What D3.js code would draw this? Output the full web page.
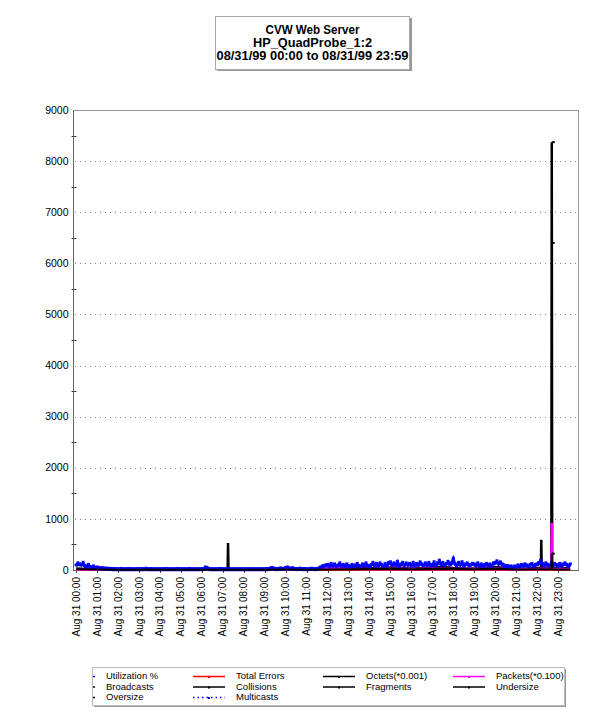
<!DOCTYPE html>
<html>
<head>
<meta charset="utf-8">
<script src="https://cdn.jsdelivr.net/npm/d3@7"></script>
<style>
  body { margin: 0; background: #fff; }
  text { font-family: "Liberation Sans", Arial, sans-serif; fill: #000; }
</style>
</head>
<body>
<script>
// chart text
const titleLines = ["CVW Web Server", "HP_QuadProbe_1:2", "08/31/99 00:00 to 08/31/99 23:59"];
const hourLabels = d3.range(0, 24).map(h => "Aug 31 " + String(h).padStart(2, "0") + ":00");
const yTicks = [0, 1000, 2000, 3000, 4000, 5000, 6000, 7000, 8000, 9000];

// Utilization %, one value every 5 minutes (12 per hour), last sample 23:35
const utilization = [
  80, 120, 100, 90, 130, 70, 60, 90, 50, 40, 60, 30,
  40, 30, 20, 25, 15, 20, 10, 15, 10, 5, 10, 5,
  5, 5, 10, 5, 5, 5, 10, 5, 5, 5, 5, 5,
  5, 10, 5, 5, 15, 5, 5, 10, 5, 5, 5, 5,
  5, 5, 5, 5, 10, 5, 5, 5, 5, 5, 10, 5,
  5, 5, 5, 5, 5, 10, 5, 5, 5, 5, 5, 5,
  5, 10, 40, 30, 10, 5, 5, 5, 5, 5, 10, 5,
  5, 5, 5, 5, 5, 5, 5, 5, 5, 5, 5, 5,
  5, 5, 5, 5, 5, 5, 5, 5, 5, 5, 5, 5,
  5, 10, 5, 15, 30, 20, 10, 5, 10, 20, 15, 10,
  30, 40, 20, 15, 25, 10, 10, 5, 15, 10, 5, 10,
  5, 5, 10, 15, 10, 5, 10, 20, 40, 60, 70, 80,
  90, 60, 110, 70, 100, 60, 80, 120, 70, 90, 60, 100,
  70, 50, 90, 60, 80, 110, 70, 60, 100, 80, 120, 70,
  60, 90, 130, 80, 110, 70, 120, 90, 60, 110, 80, 130,
  140, 80, 120, 90, 150, 70, 100, 130, 80, 120, 90, 110,
  80, 130, 70, 110, 90, 140, 100, 80, 120, 90, 130, 80,
  90, 140, 80, 120, 170, 100, 130, 90, 110, 150, 100, 120,
  210, 110, 80, 130, 90, 140, 70, 100, 120, 80, 90, 110,
  100, 80, 120, 70, 100, 60, 90, 110, 80, 100, 70, 120,
  130, 160, 110, 140, 100, 80, 60, 70, 50, 60, 40, 60,
  50, 80, 60, 90, 70, 100, 80, 60, 90, 110, 70, 90,
  100, 130, 170, 110, 80, 120, 90, 70, 100, 80, 110, 90,
  70, 110, 80, 100, 120, 90, 70, 100
];

// Octets(*0.001): [hour, value]
const octets = [
  [0, 30], [0.5, 20], [1, 10], [1.5, 5], [2, 5], [2.5, 5], [3, 10], [3.5, 15],
  [4, 5], [4.5, 5], [5, 5], [5.5, 5], [6, 5], [6.5, 5], [7, 5],
  [7.23, 5], [7.25, 530], [7.27, 5], [7.5, 5],
  [8, 5], [8.5, 5], [9, 5], [9.5, 10], [10, 15], [10.5, 10], [11, 5], [11.5, 20],
  [12, 30], [12.5, 40], [13, 30], [13.5, 50], [14, 40], [14.5, 30], [15, 50], [15.5, 40],
  [16, 30], [16.5, 40], [17, 50], [17.5, 60], [18, 40], [18.5, 30], [19, 30], [19.5, 40],
  [20, 60], [20.5, 40], [21, 20], [21.5, 30], [22, 40],
  [22.18, 40], [22.2, 590], [22.22, 40], [22.5, 50],
  [22.68, 40], [22.695, 6400], [22.7, 8370], [22.72, 40], [23, 30], [23.58, 40]
];

// Packets(*0.100): [hour, value]
const packets = [
  [0, 15], [1, 5], [2, 3], [3, 3], [4, 3], [5, 3], [6, 3], [7, 5], [8, 3], [9, 3],
  [10, 5], [11, 8], [12, 30], [12.5, 35], [13, 25], [14, 20], [15, 25], [16, 20],
  [17, 25], [18, 20], [19, 20], [20, 25], [21, 15], [22, 20], [22.5, 25],
  [22.68, 20], [22.7, 920], [22.72, 20], [23, 20], [23.58, 20]
];

// Broadcasts: [hour, value]
const broadcasts = [
  [0, 20], [0.5, 15], [1, 8], [2, 3], [3, 5], [3.5, 10], [4, 3], [5, 3], [6, 3],
  [7, 3], [8, 3], [9, 5], [10, 8], [11, 5], [12, 10], [13, 15], [14, 20], [15, 25],
  [16, 15], [17, 20], [18, 25], [19, 15], [20, 25], [21, 10], [22, 15],
  [22.68, 15], [22.7, 320], [22.72, 15], [23, 10], [23.58, 10]
];

// Total Errors: [hour, value]
const totalErrors = [[0, 0], [6, 0], [12, 2], [18, 2], [23.58, 0]];

const legendItems = [
  { name: "Utilization %", color: "#0000ff" },
  { name: "Broadcasts", color: "#000" },
  { name: "Oversize", color: "#000" },
  { name: "Total Errors", color: "#ff0000" },
  { name: "Collisions", color: "#000" },
  { name: "Multicasts", color: "#0000ff", dotted: true },
  { name: "Octets(*0.001)", color: "#000" },
  { name: "Fragments", color: "#000" },
  { name: "Packets(*0.100)", color: "#ff00ff" },
  { name: "Undersize", color: "#000" }
];

const svg = d3.select("body")
  .append("svg")
  .attr("width", 611)
  .attr("height", 712);

// title box
const title = svg.append("g");
title.append("rect")
  .attr("x", 217).attr("y", 18).attr("width", 195).attr("height", 53)
  .attr("fill", "#999");
title.append("rect")
  .attr("x", 215.5).attr("y", 16.5).attr("width", 194).attr("height", 53)
  .attr("fill", "#fff").attr("stroke", "#aaa");
const titleWidths = [94, 119, 192];
title.selectAll("text")
  .data(titleLines)
  .enter()
  .append("text")
  .attr("x", 312.5)
  .attr("y", (d, i) => 34 + i * 13)
  .attr("text-anchor", "middle")
  .attr("font-size", 12)
  .attr("font-weight", "bold")
  .attr("fill", "#111")
  .attr("textLength", (d, i) => titleWidths[i])
  .attr("lengthAdjust", "spacingAndGlyphs")
  .text(d => d);

// scales
const x = d3.scaleLinear().domain([-0.15, 24]).range([73, 579]);
const y = d3.scaleLinear().domain([0, 9000]).range([570, 110]);

// frame
svg.append("rect")
  .attr("x", 73.5).attr("y", 110.5).attr("width", 505).attr("height", 460)
  .attr("fill", "none").attr("stroke", "#999");

// grid lines
svg.append("g")
  .selectAll("line")
  .data(yTicks.filter(v => v > 0 && v < 9000))
  .enter()
  .append("line")
  .attr("x1", 75).attr("x2", 578)
  .attr("y1", d => Math.round(y(d)) + 0.5).attr("y2", d => Math.round(y(d)) + 0.5)
  .attr("stroke", "#888")
  .attr("stroke-dasharray", "1,4");

// y axis
const yAxis = svg.append("g").attr("transform", "translate(73.5,0)");
yAxis.append("line")
  .attr("y1", 110).attr("y2", 571)
  .attr("stroke", "#666");
yAxis.selectAll(".minor")
  .data(d3.range(500, 9000, 1000))
  .enter()
  .append("line")
  .attr("x1", -2).attr("x2", 3)
  .attr("y1", d => Math.round(y(d)) + 0.5).attr("y2", d => Math.round(y(d)) + 0.5)
  .attr("stroke", "#444");
yAxis.selectAll("text")
  .data(yTicks)
  .enter()
  .append("text")
  .attr("x", -5)
  .attr("y", d => y(d))
  .attr("dy", "0.35em")
  .attr("text-anchor", "end")
  .attr("font-size", 10.5)
  .text(d => d);

// x axis
const xAxis = svg.append("g");
xAxis.append("line")
  .attr("x1", 73).attr("x2", 579)
  .attr("y1", 570.5).attr("y2", 570.5)
  .attr("stroke", "#666");
xAxis.selectAll(".tick")
  .data(d3.range(0, 24))
  .enter()
  .append("line")
  .attr("x1", d => Math.round(x(d)) + 0.5).attr("x2", d => Math.round(x(d)) + 0.5)
  .attr("y1", 568).attr("y2", 573)
  .attr("stroke", "#444");
xAxis.selectAll("text")
  .data(hourLabels)
  .enter()
  .append("text")
  .attr("transform", (d, i) => `translate(${x(i)},577) rotate(-90)`)
  .attr("dy", "0.35em")
  .attr("text-anchor", "end")
  .attr("font-size", 10)
  .text(d => d);

// series
const line = d3.line()
  .x(d => x(d[0]))
  .y(d => y(d[1]));

const utilPoints = utilization.map((v, i) => [i / 12, v]);

const plot = svg.append("g");
plot.append("path").datum(totalErrors)
  .attr("d", line).attr("fill", "none").attr("stroke", "#ff0000").attr("stroke-width", 1.5);
plot.append("path").datum(octets)
  .attr("d", line).attr("fill", "none").attr("stroke", "#000").attr("stroke-width", 2.5);
plot.append("path").datum(packets)
  .attr("d", line).attr("fill", "none").attr("stroke", "#ff00ff").attr("stroke-width", 2.5);
plot.append("path").datum(utilPoints)
  .attr("d", line).attr("fill", "none").attr("stroke", "#0000ff").attr("stroke-width", 3);
plot.append("g")
  .selectAll("rect")
  .data(utilPoints)
  .enter()
  .append("rect")
  .attr("x", d => x(d[0]) - 1.5)
  .attr("y", d => y(d[1]) - 2.5)
  .attr("width", 3).attr("height", 3)
  .attr("fill", "#0000ff");
plot.append("path").datum(broadcasts)
  .attr("d", line).attr("fill", "none").attr("stroke", "#000").attr("stroke-width", 2);

// point markers on the spikes
plot.selectAll(".mark")
  .data(octets.filter(d => d[1] > 1000).concat(broadcasts.filter(d => d[1] > 100)))
  .enter()
  .append("rect")
  .attr("x", d => x(d[0]))
  .attr("y", d => y(d[1]) - 1)
  .attr("width", 3).attr("height", 2)
  .attr("fill", "#000");

// legend
const legend = svg.append("g");
const boxLeft = 92;
legend.append("rect")
  .attr("x", 94).attr("y", 669).attr("width", 472).attr("height", 38)
  .attr("fill", "#999");
legend.append("rect")
  .attr("x", boxLeft + 0.5).attr("y", 667.5).attr("width", 472).attr("height", 38)
  .attr("fill", "#fff").attr("stroke", "#bbb");

const colOf = [0, 0, 0, 1, 1, 1, 2, 2, 3, 3];
const rowOf = [0, 1, 2, 0, 1, 2, 0, 1, 0, 1];
const lx = i => 63 + colOf[i] * 130;
const ly = i => 676 + rowOf[i] * 10.5;

// line samples, cut at the left edge of the box
legend.selectAll(".sample")
  .data(legendItems)
  .enter()
  .append("line")
  .attr("x1", (d, i) => Math.max(boxLeft + 1, lx(i)))
  .attr("x2", (d, i) => lx(i) + 32)
  .attr("y1", (d, i) => ly(i) + 0.5)
  .attr("y2", (d, i) => ly(i) + 0.5)
  .attr("stroke", d => d.color)
  .attr("stroke-width", 1.5)
  .attr("stroke-dasharray", d => d.dotted ? "1.5,3" : null);
legend.selectAll(".dot")
  .data(legendItems.filter((d, i) => lx(i) + 15 > boxLeft))
  .enter()
  .append("rect")
  .attr("x", d => lx(legendItems.indexOf(d)) + 15)
  .attr("y", d => ly(legendItems.indexOf(d)))
  .attr("width", 2).attr("height", 2)
  .attr("fill", d => d.color);
legend.selectAll("text")
  .data(legendItems)
  .enter()
  .append("text")
  .attr("x", (d, i) => lx(i) + 43)
  .attr("y", (d, i) => ly(i))
  .attr("dy", "0.35em")
  .attr("font-size", 9.5)
  .text(d => d.name);
</script>
</body>
</html>
